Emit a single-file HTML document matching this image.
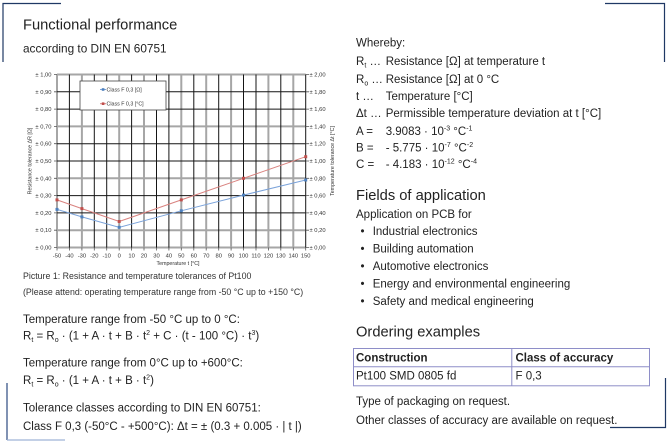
<!DOCTYPE html>
<html><head><meta charset="utf-8"><style>
html,body{margin:0;padding:0;background:#fff;}
svg{display:block;}
text{font-family:"Liberation Sans",Arial,sans-serif;fill:#222;}
.tk{font-size:5.8px;fill:#333;}
.lg{font-size:5.3px;fill:#333;}
.b{font-size:11.5px;}
.h{font-size:14.7px;}
</style></head><body>
<svg width="670" height="441" viewBox="0 0 670 441" xmlns="http://www.w3.org/2000/svg">
<!-- corner brackets -->
<path d="M3,62 V3.5 H61" fill="none" stroke="#1f3864" stroke-width="1.2"/>
<path d="M605,3.5 H664.5 V62" fill="none" stroke="#1f3864" stroke-width="1.2"/>
<path d="M7,383 V440" fill="none" stroke="#2c4a80" stroke-width="1.2"/>
<path d="M7,440 H65" fill="none" stroke="#9fb3d6" stroke-width="1.2"/>
<path d="M665.5,378 V427.5 H610" fill="none" stroke="#1f3864" stroke-width="1.2"/>

<!-- headings -->
<text x="23" y="29.5" class="h">Functional performance</text>
<text x="23" y="52.7" style="font-size:11.8px">according to DIN EN 60751</text>

<!-- chart grid -->
<g stroke="#a6a6a6" stroke-width="2">
<line x1="57" y1="247.5" x2="305.7" y2="247.5"/>
<line x1="57" y1="230.2" x2="305.7" y2="230.2"/>
<line x1="57" y1="178.3" x2="305.7" y2="178.3"/>
<line x1="57" y1="126.4" x2="305.7" y2="126.4"/>
<line x1="57" y1="74.5" x2="305.7" y2="74.5"/>
<line x1="57" y1="74.5" x2="57" y2="247.5"/>
<line x1="81.9" y1="74.5" x2="81.9" y2="247.5"/>
<line x1="119.2" y1="74.5" x2="119.2" y2="247.5"/>
<line x1="144" y1="74.5" x2="144" y2="247.5"/>
<line x1="181.3" y1="74.5" x2="181.3" y2="247.5"/>
<line x1="206.2" y1="74.5" x2="206.2" y2="247.5"/>
<line x1="231.1" y1="74.5" x2="231.1" y2="247.5"/>
<line x1="268.4" y1="74.5" x2="268.4" y2="247.5"/>
<line x1="293.3" y1="74.5" x2="293.3" y2="247.5"/>
</g>
<g stroke="#151515" stroke-width="1">
<line x1="57" y1="212.9" x2="305.7" y2="212.9"/>
<line x1="57" y1="195.6" x2="305.7" y2="195.6"/>
<line x1="57" y1="161" x2="305.7" y2="161"/>
<line x1="57" y1="143.7" x2="305.7" y2="143.7"/>
<line x1="57" y1="109.1" x2="305.7" y2="109.1"/>
<line x1="57" y1="91.8" x2="305.7" y2="91.8"/>
<line x1="69.4" y1="74.5" x2="69.4" y2="247.5"/>
<line x1="94.3" y1="74.5" x2="94.3" y2="247.5"/>
<line x1="106.7" y1="74.5" x2="106.7" y2="247.5"/>
<line x1="131.6" y1="74.5" x2="131.6" y2="247.5"/>
<line x1="156.5" y1="74.5" x2="156.5" y2="247.5"/>
<line x1="168.9" y1="74.5" x2="168.9" y2="247.5"/>
<line x1="193.8" y1="74.5" x2="193.8" y2="247.5"/>
<line x1="218.7" y1="74.5" x2="218.7" y2="247.5"/>
<line x1="243.5" y1="74.5" x2="243.5" y2="247.5"/>
<line x1="256" y1="74.5" x2="256" y2="247.5"/>
<line x1="280.8" y1="74.5" x2="280.8" y2="247.5"/>
<line x1="305.7" y1="74.5" x2="305.7" y2="247.5"/>
</g>
<!-- ticks -->
<g stroke="#555" stroke-width="0.8">
<path d="M54,247.5H57M54,230.2H57M54,212.9H57M54,195.6H57M54,178.3H57M54,161H57M54,143.7H57M54,126.4H57M54,109.1H57M54,91.8H57M54,74.5H57"/>
<path d="M305.7,247.5H309M305.7,230.2H309M305.7,212.9H309M305.7,195.6H309M305.7,178.3H309M305.7,161H309M305.7,143.7H309M305.7,126.4H309M305.7,109.1H309M305.7,91.8H309M305.7,74.5H309"/>
<path d="M57,247.5V250.5M69.4,247.5V250.5M81.9,247.5V250.5M94.3,247.5V250.5M106.7,247.5V250.5M119.2,247.5V250.5M131.6,247.5V250.5M144,247.5V250.5M156.5,247.5V250.5M168.9,247.5V250.5M181.3,247.5V250.5M193.8,247.5V250.5M206.2,247.5V250.5M218.7,247.5V250.5M231.1,247.5V250.5M243.5,247.5V250.5M256,247.5V250.5M268.4,247.5V250.5M280.8,247.5V250.5M293.3,247.5V250.5M305.7,247.5V250.5"/>
</g>
<!-- left tick labels -->
<g text-anchor="end">
<text x="51.5" y="249.5" class="tk">± 0,00</text>
<text x="51.5" y="232.2" class="tk">± 0,10</text>
<text x="51.5" y="214.9" class="tk">± 0,20</text>
<text x="51.5" y="197.6" class="tk">± 0,30</text>
<text x="51.5" y="180.3" class="tk">± 0,40</text>
<text x="51.5" y="163" class="tk">± 0,50</text>
<text x="51.5" y="145.7" class="tk">± 0,60</text>
<text x="51.5" y="128.4" class="tk">± 0,70</text>
<text x="51.5" y="111.1" class="tk">± 0,80</text>
<text x="51.5" y="93.8" class="tk">± 0,90</text>
<text x="51.5" y="76.5" class="tk">± 1,00</text>
</g>
<g>
<text x="309.5" y="249.5" class="tk">± 0,00</text>
<text x="309.5" y="232.2" class="tk">± 0,20</text>
<text x="309.5" y="214.9" class="tk">± 0,40</text>
<text x="309.5" y="197.6" class="tk">± 0,60</text>
<text x="309.5" y="180.3" class="tk">± 0,80</text>
<text x="309.5" y="163" class="tk">± 1,00</text>
<text x="309.5" y="145.7" class="tk">± 1,20</text>
<text x="309.5" y="128.4" class="tk">± 1,40</text>
<text x="309.5" y="111.1" class="tk">± 1,60</text>
<text x="309.5" y="93.8" class="tk">± 1,80</text>
<text x="309.5" y="76.5" class="tk">± 2,00</text>
</g>
<g text-anchor="middle">
<text x="57" y="257.3" class="tk">-50</text>
<text x="69.4" y="257.3" class="tk">-40</text>
<text x="81.9" y="257.3" class="tk">-30</text>
<text x="94.3" y="257.3" class="tk">-20</text>
<text x="106.7" y="257.3" class="tk">-10</text>
<text x="119.2" y="257.3" class="tk">0</text>
<text x="131.6" y="257.3" class="tk">10</text>
<text x="144" y="257.3" class="tk">20</text>
<text x="156.5" y="257.3" class="tk">30</text>
<text x="168.9" y="257.3" class="tk">40</text>
<text x="181.3" y="257.3" class="tk">50</text>
<text x="193.8" y="257.3" class="tk">60</text>
<text x="206.2" y="257.3" class="tk">70</text>
<text x="218.7" y="257.3" class="tk">80</text>
<text x="231.1" y="257.3" class="tk">90</text>
<text x="243.5" y="257.3" class="tk">100</text>
<text x="256" y="257.3" class="tk">110</text>
<text x="268.4" y="257.3" class="tk">120</text>
<text x="280.8" y="257.3" class="tk">130</text>
<text x="293.3" y="257.3" class="tk">140</text>
<text x="305.7" y="257.3" class="tk">150</text>
<text x="178" y="265" class="lg">Temperature t [°C]</text>
<text transform="translate(31.5,161) rotate(-90)" class="lg">Resistance tolerance ΔR [Ω]</text>
<text transform="translate(334,161) rotate(-90)" class="lg">Temperature tolerance Δt [°C]</text>
</g>
<!-- series -->
<polyline points="57,209.4 81.9,216.9 119.2,227.3 181.3,210.8 243.5,195.1 305.7,180" fill="none" stroke="#7ba3da" stroke-width="1"/>
<polyline points="57,199.9 81.9,208.6 119.2,221.5 181.3,199.9 243.5,178.3 305.7,156.7" fill="none" stroke="#d9827f" stroke-width="1"/>
<g fill="#4f81bd">
<rect x="55.5" y="207.9" width="3" height="3"/><rect x="80.4" y="215.4" width="3" height="3"/><rect x="117.7" y="225.8" width="3" height="3"/><rect x="179.8" y="209.3" width="3" height="3"/><rect x="242" y="193.6" width="3" height="3"/><rect x="304.2" y="178.5" width="3" height="3"/>
</g>
<g fill="#c0504d">
<rect x="55.5" y="198.4" width="3" height="3"/><rect x="80.4" y="207.1" width="3" height="3"/><rect x="117.7" y="220" width="3" height="3"/><rect x="179.8" y="198.4" width="3" height="3"/><rect x="242" y="176.8" width="3" height="3"/><rect x="304.2" y="155.2" width="3" height="3"/>
</g>
<!-- legend -->
<rect x="80" y="81" width="86" height="29" fill="#fff" stroke="#444" stroke-width="0.8"/>
<line x1="100" y1="89.5" x2="106" y2="89.5" stroke="#7ba3da" stroke-width="1"/>
<rect x="101.8" y="88.2" width="2.6" height="2.6" fill="#4f81bd"/>
<text x="106.5" y="91.4" class="lg">Class F 0,3 [Ω]</text>
<line x1="100" y1="103.7" x2="106" y2="103.7" stroke="#d9827f" stroke-width="1"/>
<rect x="101.8" y="102.4" width="2.6" height="2.6" fill="#c0504d"/>
<text x="106.5" y="105.6" class="lg">Class F 0,3 [°C]</text>

<!-- caption -->
<text x="23" y="279" style="font-size:8.8px;fill:#333">Picture 1: Resistance and temperature tolerances of Pt100</text>
<text x="23" y="295" style="font-size:8.8px;fill:#333">(Please attend: operating temperature range from -50 °C up to +150 °C)</text>

<!-- left formulas -->
<text x="23" y="323" class="b">Temperature range from -50 °C up to 0 °C:</text>
<text x="23" y="339.5" class="b">R<tspan dy="2.5" font-size="7">t</tspan><tspan dy="-2.5"> = R</tspan><tspan dy="2.5" font-size="7">o</tspan><tspan dy="-2.5"> · (1 + A · t  + B · t</tspan><tspan dy="-4.5" font-size="7">2</tspan><tspan dy="4.5">  + C · (t - 100 °C) · t</tspan><tspan dy="-4.5" font-size="7">3</tspan><tspan dy="4.5">)</tspan></text>
<text x="23" y="366.7" class="b">Temperature range from 0°C up to +600°C:</text>
<text x="23" y="384" class="b">R<tspan dy="2.5" font-size="7">t</tspan><tspan dy="-2.5"> = R</tspan><tspan dy="2.5" font-size="7">o</tspan><tspan dy="-2.5"> · (1 + A · t  + B · t</tspan><tspan dy="-4.5" font-size="7">2</tspan><tspan dy="4.5">)</tspan></text>
<text x="23" y="411.7" class="b">Tolerance classes according to DIN EN 60751:</text>
<text x="23" y="430" class="b">Class F 0,3 (-50°C - +500°C): Δt = ± (0.3 + 0.005 · | t |)</text>

<!-- right column -->
<text x="356" y="46.7" class="b">Whereby:</text>
<text x="356" y="65" class="b">R<tspan dy="2.5" font-size="7">t</tspan><tspan dy="-2.5"> …</tspan></text>
<text x="385.7" y="65" class="b">Resistance [Ω] at temperature t</text>
<text x="356" y="83" class="b">R<tspan dy="2.5" font-size="7">o</tspan><tspan dy="-2.5"> …</tspan></text>
<text x="385.7" y="83" class="b">Resistance [Ω] at 0 °C</text>
<text x="356" y="100" class="b">t …</text>
<text x="385.7" y="100" class="b">Temperature [°C]</text>
<text x="356" y="117" class="b">Δt …</text>
<text x="385.7" y="117" class="b">Permissible temperature deviation at t [°C]</text>
<text x="356" y="135" class="b">A =</text>
<text x="385.7" y="135" class="b">3.9083 · 10<tspan dy="-4.5" font-size="7">-3</tspan><tspan dy="4.5"> °C</tspan><tspan dy="-4.5" font-size="7">-1</tspan></text>
<text x="356" y="151.7" class="b">B =</text>
<text x="385.7" y="151.7" class="b">- 5.775 · 10<tspan dy="-4.5" font-size="7">-7</tspan><tspan dy="4.5"> °C</tspan><tspan dy="-4.5" font-size="7">-2</tspan></text>
<text x="356" y="168" class="b">C =</text>
<text x="385.7" y="168" class="b">- 4.183 · 10<tspan dy="-4.5" font-size="7">-12</tspan><tspan dy="4.5"> °C</tspan><tspan dy="-4.5" font-size="7">-4</tspan></text>

<text x="356" y="200" class="h">Fields of application</text>
<text x="356" y="218" class="b">Application on PCB for</text>
<g>
<text x="360.5" y="235" class="b">•</text><text x="372.7" y="235" class="b">Industrial electronics</text>
<text x="360.5" y="252.3" class="b">•</text><text x="372.7" y="252.3" class="b">Building automation</text>
<text x="360.5" y="270" class="b">•</text><text x="372.7" y="270" class="b">Automotive electronics</text>
<text x="360.5" y="287.7" class="b">•</text><text x="372.7" y="287.7" class="b">Energy and environmental engineering</text>
<text x="360.5" y="305" class="b">•</text><text x="372.7" y="305" class="b">Safety and medical engineering</text>
</g>
<text x="356" y="336.7" class="h">Ordering examples</text>

<!-- table -->
<rect x="353.5" y="348.5" width="296" height="37.3" fill="none" stroke="#8e8ec8" stroke-width="1"/>
<line x1="353.5" y1="366.8" x2="649.5" y2="366.8" stroke="#8e8ec8" stroke-width="1"/>
<line x1="511.8" y1="348.5" x2="511.8" y2="385.8" stroke="#8e8ec8" stroke-width="1"/>
<text x="356" y="361.7" class="b" font-weight="bold">Construction</text>
<text x="515.5" y="361.7" class="b" font-weight="bold">Class of accuracy</text>
<text x="356" y="379.3" class="b">Pt100 SMD 0805 fd</text>
<text x="515.5" y="379.3" class="b">F 0,3</text>

<text x="356" y="405" class="b">Type of packaging on request.</text>
<text x="356" y="424" class="b">Other classes of accuracy are available on request.</text>
</svg>
</body></html>
